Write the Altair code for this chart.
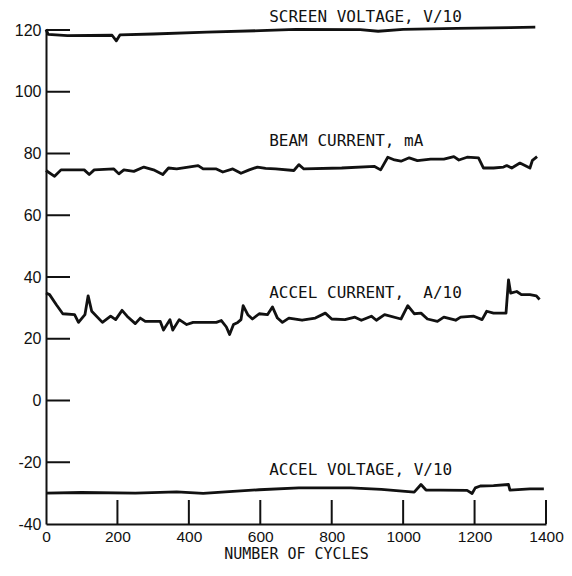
import altair as alt
import pandas as pd

# ---- data ----
screen_x = [0, 6, 60, 185, 197, 207, 300, 450, 600, 700, 880, 930, 1000, 1150, 1300, 1370]
screen_v = [120.2, 118.6, 118.2, 118.3, 116.5, 118.4, 118.7, 119.3, 119.8, 120.2, 120.1, 119.6, 120.2, 120.5, 120.8, 120.9]

beam_x = [0, 24, 42, 107, 121, 135, 190, 204, 218, 246, 274, 301, 327, 343, 366, 426, 440, 477,
          495, 523, 546, 569, 592, 615, 643, 694, 708, 722, 828, 920, 937, 957, 976, 994, 1017,
          1040, 1077, 1114, 1142, 1156, 1179, 1211, 1225, 1253, 1281, 1290, 1304, 1327, 1355,
          1362, 1375]
beam_v = [74.5, 72.6, 74.7, 74.7, 73.2, 74.7, 75.0, 73.4, 74.7, 74.2, 75.6, 74.7, 73.2, 75.3, 75.0,
          76.1, 75.0, 75.0, 74.0, 75.0, 73.6, 74.7, 75.6, 75.2, 75.0, 74.5, 76.4, 75.0, 75.3, 75.8,
          74.7, 78.8, 77.9, 77.5, 78.6, 77.7, 78.2, 78.2, 79.0, 77.9, 78.8, 78.6, 75.3, 75.3, 75.6,
          76.1, 75.3, 76.9, 75.3, 77.8, 79.0]

acci_x = [0, 10, 29, 47, 80, 91, 109, 118, 128, 158, 181, 195, 213, 227, 250, 264, 278, 320, 329,
          347, 355, 373, 394, 412, 477, 491, 505, 514, 525, 537, 546, 552, 565, 578, 597, 620, 634,
          648, 662, 680, 717, 754, 782, 800, 837, 865, 883, 911, 925, 948, 994, 1013, 1031, 1050,
          1068, 1096, 1114, 1147, 1161, 1198, 1221, 1234, 1253, 1288, 1295, 1301, 1318, 1331, 1355,
          1373, 1382]
acci_v = [34.8, 34.3, 31.0, 28.1, 27.8, 25.3, 27.8, 33.9, 28.9, 25.3, 27.3, 26.2, 29.2, 27.3, 24.9,
          26.7, 25.6, 25.6, 22.8, 26.2, 22.8, 26.2, 24.6, 25.3, 25.3, 25.9, 23.8, 21.4, 24.6, 25.3,
          26.2, 30.7, 27.8, 26.4, 28.1, 27.8, 30.3, 26.7, 25.3, 26.7, 26.0, 26.7, 28.3, 26.4, 26.2,
          27.0, 26.0, 27.3, 26.0, 27.8, 26.4, 30.7, 28.1, 28.3, 26.4, 25.6, 27.0, 26.0, 27.0, 27.3,
          26.2, 28.9, 28.3, 28.3, 39.1, 34.8, 35.3, 34.3, 34.3, 33.9, 32.7]

accv_x = [0, 100, 250, 366, 440, 513, 597, 708, 853, 939, 1031, 1050, 1064, 1105, 1179, 1193, 1202,
          1216, 1253, 1295, 1299, 1355, 1394]
accv_v = [-30.0, -29.8, -30.0, -29.6, -30.1, -29.5, -28.9, -28.3, -28.3, -28.8, -29.7, -27.2, -29.0,
          -29.0, -29.1, -30.1, -28.3, -27.7, -27.6, -27.2, -29.0, -28.6, -28.6]

x_ticks = [0, 200, 400, 600, 800, 1000, 1200, 1400]
y_ticks = [-40, -20, 0, 20, 40, 60, 80, 100, 120]
x_inner_ticks = [200, 400, 600, 800, 1000, 1200, 1400]
y_inner_ticks = [-20, 0, 20, 40, 60, 80, 100, 120]

label_text = ["SCREEN VOLTAGE, V/10", "BEAM CURRENT, mA", "ACCEL CURRENT,\u00a0\u00a0A/10", "ACCEL VOLTAGE, V/10"]
label_x = [625, 625, 625, 625]
label_y = [124.3, 83.9, 34.7, -22.6]

# ---- build tables ----
rows = []
for name, xs, vs in [("screen", screen_x, screen_v), ("beam", beam_x, beam_v),
                     ("acci", acci_x, acci_v), ("accv", accv_x, accv_v)]:
    for i, (xv, yv) in enumerate(zip(xs, vs)):
        rows.append({"series": name, "i": i, "cycles": xv, "value": yv})
df = pd.DataFrame(rows)
labels = pd.DataFrame({"text": label_text, "cycles": label_x, "value": label_y})
xt = pd.DataFrame({"t": x_inner_ticks})
yt = pd.DataFrame({"t": y_inner_ticks})

xscale = alt.Scale(domain=[0, 1400], nice=False, zero=False)
yscale = alt.Scale(domain=[-40, 120], nice=False, zero=False)

INK = "#111111"
W, H = 500, 494
TICK = 24

lines = alt.Chart(df).mark_line(color=INK, strokeWidth=2.8, strokeJoin="round").encode(
    x=alt.X("cycles:Q", scale=xscale,
            axis=alt.Axis(values=x_ticks, tickSize=0, labelPadding=5, labelFlush=False,
                          labelExpr="'' + datum.value",
                          labelFont="Liberation Sans", labelFontSize=15.5, labelColor=INK,
                          domainColor=INK, domainWidth=2, grid=False,
                          title="NUMBER OF CYCLES", titleFont="DejaVu Sans Mono",
                          titleFontSize=15, titleFontWeight="normal", titleColor=INK,
                          titlePadding=2)),
    y=alt.Y("value:Q", scale=yscale,
            axis=alt.Axis(values=y_ticks, tickSize=0, labelPadding=5,
                          labelExpr="'' + datum.value",
                          labelFont="Liberation Sans", labelFontSize=16, labelColor=INK,
                          domainColor=INK, domainWidth=2, grid=False, title="")),
    detail="series:N",
    order="i:Q",
)

ytick_rules = alt.Chart(yt).mark_rule(color=INK, strokeWidth=2).encode(
    y=alt.Y("t:Q", scale=yscale), x=alt.value(0), x2=alt.value(TICK)
)
xtick_rules = alt.Chart(xt).mark_rule(color=INK, strokeWidth=2).encode(
    x=alt.X("t:Q", scale=xscale), y=alt.value(H), y2=alt.value(H - TICK)
)

texts = alt.Chart(labels).mark_text(align="left", baseline="middle", font="DejaVu Sans Mono",
                                    fontSize=16, color=INK).encode(
    x=alt.X("cycles:Q", scale=xscale), y=alt.Y("value:Q", scale=yscale), text="text:N"
)

chart = alt.layer(lines, ytick_rules, xtick_rules, texts).properties(
    width=W, height=H,
    padding={"left": 38, "top": 22, "right": 18, "bottom": 38},
    autosize=alt.AutoSizeParams(type="none"),
    background="white",
).configure_view(stroke=None)

chart.save("out.html", embed_options={"renderer": "svg", "actions": False})
